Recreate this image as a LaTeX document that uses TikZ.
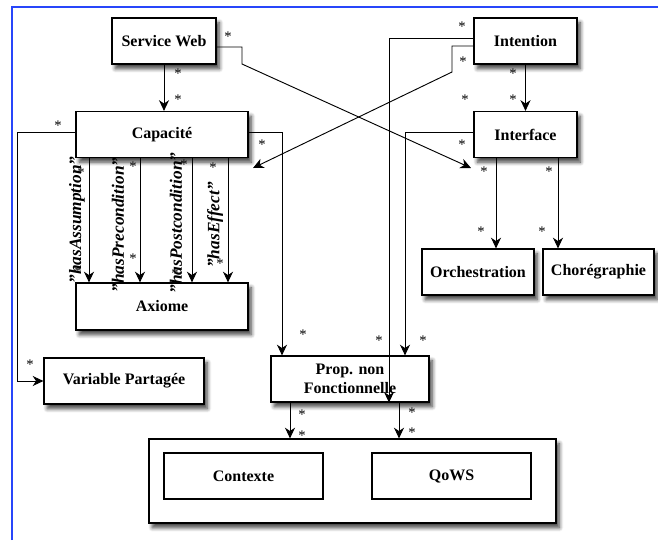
\documentclass[tikz,border=0pt]{standalone}
\usepackage{fontspec}
\setmainfont{Liberation Serif}
\usetikzlibrary{arrows.meta,shadows.blur}

\begin{document}
\begin{tikzpicture}[x=0.75pt,y=-0.75pt,
	plainbox/.style={draw,line width=0.9pt,fill=white,minimum height=34.5pt,inner sep=2pt,font=\fontsize{12}{14}\selectfont\bfseries},
	box/.style={plainbox,blur shadow={shadow xshift=2.5pt,shadow yshift=-3.5pt,shadow opacity=75,shadow blur steps=6,shadow blur radius=3pt}},
	conn/.style={line width=0.7pt,-{Stealth[length=8pt,width=7.5pt,inset=2.5pt]}},
	mult/.style={font=\fontsize{11}{11}\selectfont,inner sep=0pt},
	role/.style={font=\fontsize{13}{14}\selectfont\bfseries\itshape,rotate=90,inner sep=0pt}]
	\useasboundingbox (0,0) rectangle (658,540);
	\draw[line width=1.5pt,color={rgb,255:red,40;green,70;blue,250}] (12,540) -- (12,7) -- (658,7);

	\node[box,minimum width=78pt] (sw) at (164,41) {Service Web};
	\node[box,minimum width=129pt] (cap) at (162,134.5) {Capacité};
	\node[box,minimum width=77.25pt] (intent) at (525.5,41) {Intention};
	\node[box,minimum width=77.25pt] (iface) at (525.5,134.5) {Interface};
	\node[box,minimum width=84pt] (orch) at (478,272) {Orchestration};
	\node[box,minimum width=83.25pt] (chor) at (598.5,272) {Chorégraphie};
	\node[box,minimum width=129pt,minimum height=35.25pt] (axiome) at (162,306.5) {Axiome};
	\node[box,minimum width=120pt] (varp) at (124,381) {Variable Partagée};
	\node[box,minimum width=118.5pt,align=center] (prop) at (350,379) {Prop. non\\Fonctionnelle};
	\node[box,minimum width=305.25pt,minimum height=63pt] (qual) at (352.5,481) {};
	\node[plainbox,minimum width=119.25pt] (ctx) at (243.5,476) {Contexte};
	\node[plainbox,minimum width=119.25pt] (qows) at (451.5,476) {QoWS};

	\coordinate (capin) at (253,168);
	\coordinate (ifacein) at (471,168);

	\draw[conn] (sw.south) -- (sw.south |- cap.north);
	\draw[conn] (intent.south) -- (iface.north);
	\draw[conn] (sw.east |- 0,47) -- (242,47) -- (242,64) -- (ifacein);
	\draw[conn] (intent.west |- 0,46) -- (452,46) -- (452,72) -- (capin);
	\draw[conn] (intent.west |- 0,38) -| (prop.south -| 389,0);
	\draw[conn] (iface.west |- 0,132) -| (prop.north -| 405,0);
	\draw[conn] (cap.east |- 0,132) -| (prop.north -| 282,0);
	\draw[conn] (cap.west |- 0,132) -- (17,132) |- (varp.west);
	\draw[conn] (iface.south -| 496,0) -- (orch.north -| 496,0);
	\draw[conn] (iface.south -| 558,0) -- (chor.north -| 558,0);
	\foreach \x in {89,140,192,228}
		\draw[conn] (cap.south -| \x,0) -- (axiome.north -| \x,0);
	\draw[conn] (prop.south -| 290,0) -- (qual.north -| 290,0);
	\draw[conn] (prop.south -| 399,0) -- (qual.north -| 399,0);

	\node[role] (rassum) at (77,220) {"hasAssumption"};
	\node[role] (rprec) at (118,225) {"hasPrecondition"};
	\node[role] (rpost) at (176,223) {"hasPostcondition"};
	\node[role] (reff) at (215,225) {"hasEffect"};

	\foreach \x/\y [count=\i] in {228/37,178/74,178/100,58/126,262/145,462/27,463/62,513/74,513/100,465/100,462/145,484/172,549/172,481/232,542/232,81/173,133/167,184/165,213/168,133/259,220/264,78/272,175/274,303/335,379/341,423/341,302/415,302/436,412/413,412/433,30/365}
		\node[mult] (m\i) at (\x,\y) {*};
\end{tikzpicture}
\end{document}
